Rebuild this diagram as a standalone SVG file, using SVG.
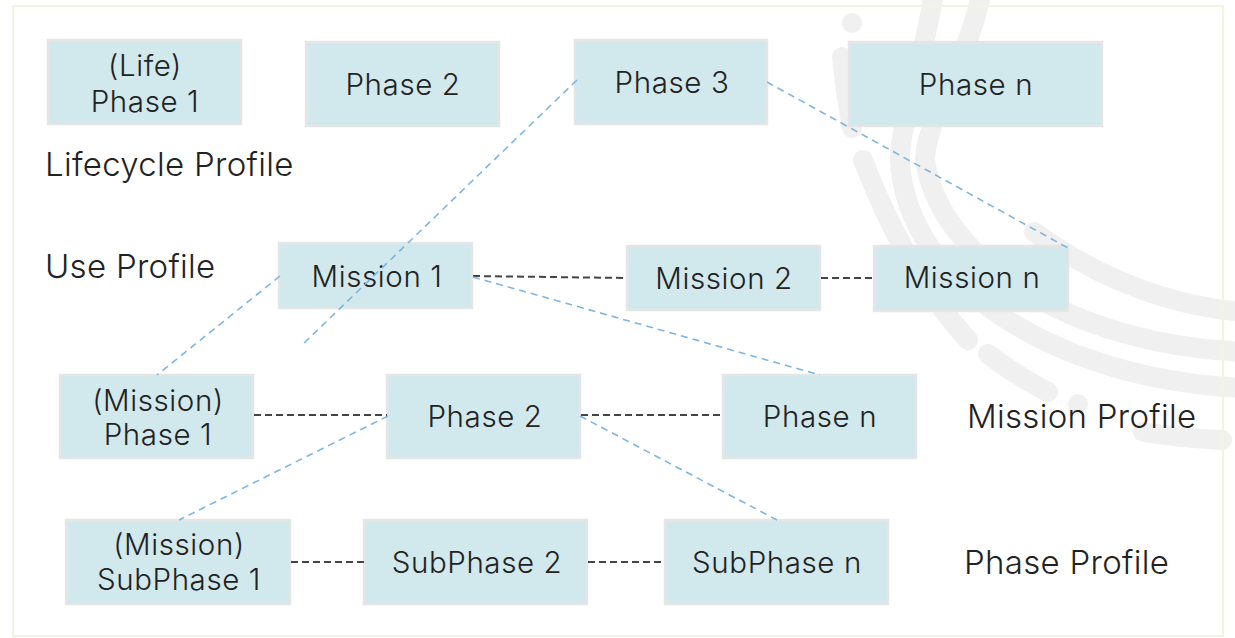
<svg xmlns="http://www.w3.org/2000/svg" width="1235" height="638" viewBox="0 0 1235 638">
  <style>
    .wm { fill: none; stroke: #f1f0f1; stroke-width: 20; stroke-linecap: round; }
    .wmdot { fill: #f1f0f1; }
    .box { fill: #d1e8ec; stroke: #e5e5e5; stroke-width: 2.5; }
    .txt { font-family: Inter, "Open Sans", "Liberation Sans", sans-serif; font-weight: 300; font-size: 29.5px; letter-spacing: 0.6px; fill: #222222; text-anchor: middle; }
    .lbl { font-family: Inter, "Open Sans", "Liberation Sans", sans-serif; font-weight: 300; font-size: 33px; letter-spacing: 0.3px; fill: #222222; }
    .dk { stroke: #444444; stroke-width: 2; stroke-dasharray: 7 4; fill: none; }
    .bl { stroke: #7db6e0; stroke-width: 1.6; stroke-dasharray: 7 5; fill: none; }
  </style>

  <rect width="1235" height="638" fill="#ffffff"/>

  <!-- background emblem: concentric arcs -->
  <g id="emblem">
    <circle class="wmdot" cx="852" cy="23" r="10"/>
    <path class="wm" d="M842,57 Q846,95 852,128"/>
    <path class="wm" d="M863,160 Q905,270 968,340"/>
    <path class="wm" d="M988,354 Q1015,375 1048,392"/>
    <circle class="wmdot" cx="1078" cy="404" r="10"/>
    <path class="wm" d="M1143,432 Q1180,438 1222,440"/>
    <path class="wm" d="M935,-15 C925,60 900,120 900,160 C905,280 1050,380 1245,388"/>
    <path class="wm" d="M983,-15 C970,60 925,120 925,160 C940,260 1070,345 1245,352"/>
    <path class="wm" d="M1034,232 C1080,265 1150,305 1245,312"/>
  </g>

  <!-- outer frame -->
  <rect x="13" y="6" width="1210" height="630" fill="none" stroke="#f1f4df" stroke-width="2"/>

  <!-- lifecycle profile row -->
  <g id="life-phase-1">
    <rect class="box" x="48" y="40" width="193" height="84"/>
    <text class="txt" x="145" y="76">(Life)</text>
    <text class="txt" x="145" y="112">Phase 1</text>
  </g>
  <g id="life-phase-2">
    <rect class="box" x="306" y="42" width="193" height="84"/>
    <text class="txt" x="403" y="95">Phase 2</text>
  </g>
  <g id="life-phase-3">
    <rect class="box" x="575" y="40" width="192" height="84"/>
    <text class="txt" x="672" y="93">Phase 3</text>
  </g>
  <g id="life-phase-n">
    <rect class="box" x="849" y="42" width="253" height="84"/>
    <text class="txt" x="976" y="95">Phase n</text>
  </g>

  <!-- use profile row -->
  <g id="mission-1">
    <rect class="box" x="279" y="243" width="193" height="65"/>
    <text class="txt" x="377" y="287">Mission 1</text>
  </g>
  <g id="mission-2">
    <rect class="box" x="627" y="246" width="193" height="64"/>
    <text class="txt" x="724" y="289">Mission 2</text>
  </g>
  <g id="mission-n">
    <rect class="box" x="874" y="246" width="194" height="65"/>
    <text class="txt" x="972" y="288">Mission n</text>
  </g>

  <!-- mission profile row -->
  <g id="mission-phase-1">
    <rect class="box" x="60" y="375" width="193" height="83"/>
    <text class="txt" x="158" y="411">(Mission)</text>
    <text class="txt" x="158" y="445">Phase 1</text>
  </g>
  <g id="mission-phase-2">
    <rect class="box" x="387" y="375" width="193" height="83"/>
    <text class="txt" x="485" y="427">Phase 2</text>
  </g>
  <g id="mission-phase-n">
    <rect class="box" x="723" y="375" width="193" height="83"/>
    <text class="txt" x="820" y="427">Phase n</text>
  </g>

  <!-- phase profile row -->
  <g id="subphase-1">
    <rect class="box" x="66" y="520" width="224" height="84"/>
    <text class="txt" x="179" y="555">(Mission)</text>
    <text class="txt" x="179" y="590">SubPhase 1</text>
  </g>
  <g id="subphase-2">
    <rect class="box" x="364" y="520" width="223" height="84"/>
    <text class="txt" x="477" y="573">SubPhase 2</text>
  </g>
  <g id="subphase-n">
    <rect class="box" x="665" y="520" width="223" height="84"/>
    <text class="txt" x="777" y="573">SubPhase n</text>
  </g>

  <!-- profile labels -->
  <g id="labels">
    <text class="lbl" x="45" y="176">Lifecycle Profile</text>
    <text class="lbl" x="45" y="278">Use Profile</text>
    <text class="lbl" x="967" y="428">Mission Profile</text>
    <text class="lbl" x="964" y="574">Phase Profile</text>
  </g>

  <!-- connectors -->
  <g id="connectors">
    <line class="dk" x1="473" y1="276" x2="627" y2="278"/>
    <line class="dk" x1="821" y1="278" x2="874" y2="278"/>
    <line class="dk" x1="254" y1="415" x2="387" y2="415"/>
    <line class="dk" x1="581" y1="415" x2="723" y2="415"/>
    <line class="dk" x1="291" y1="562" x2="364" y2="562"/>
    <line class="dk" x1="588" y1="562" x2="665" y2="562"/>

    <line class="bl" x1="577" y1="80" x2="301" y2="346"/>
    <line class="bl" x1="767" y1="82" x2="1068" y2="248"/>
    <line class="bl" x1="280" y1="276" x2="157" y2="375"/>
    <line class="bl" x1="473" y1="277" x2="820" y2="375"/>
    <line class="bl" x1="388" y1="416" x2="179" y2="520"/>
    <line class="bl" x1="580" y1="416" x2="777" y2="520"/>
  </g>
</svg>
